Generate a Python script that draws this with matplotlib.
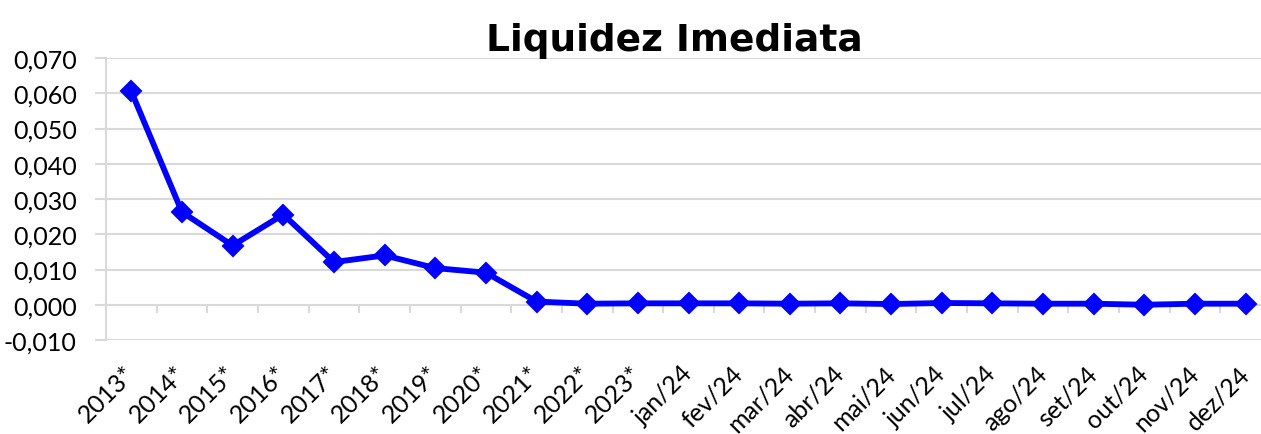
import matplotlib
matplotlib.use("Agg")
import matplotlib.pyplot as plt
from matplotlib.ticker import FuncFormatter, MultipleLocator

categories = [
    "2013*", "2014*", "2015*", "2016*", "2017*", "2018*", "2019*", "2020*",
    "2021*", "2022*", "2023*", "jan/24", "fev/24", "mar/24", "abr/24",
    "mai/24", "jun/24", "jul/24", "ago/24", "set/24", "out/24", "nov/24",
    "dez/24",
]
values = [
    0.0605, 0.0263, 0.0168, 0.0256, 0.0121, 0.0140, 0.0104, 0.0091,
    0.0009, 0.0003, 0.0004, 0.0004, 0.0004, 0.0003, 0.0004,
    0.0002, 0.0005, 0.0004, 0.0003, 0.0003, 0.0000, 0.0003,
    0.0003,
]

GRID = "#d9d9d9"
BLUE = "#0000ff"
FONT = "Lato"

fig = plt.figure(figsize=(12.61, 4.35), dpi=100)
ax = fig.add_axes([106 / 1261, 94 / 435, 1165 / 1261, 282 / 435])

x = list(range(len(categories)))
ax.plot(x, values, color=BLUE, linewidth=4.2, marker="D", markersize=10,
        markeredgecolor=BLUE, markeredgewidth=1.5, zorder=5,
        solid_joinstyle="round")

ax.set_xlim(-0.5, len(categories) - 0.5)
ax.set_ylim(-0.010, 0.070)
ax.yaxis.set_major_locator(MultipleLocator(0.01))
ax.yaxis.set_major_formatter(
    FuncFormatter(lambda v, _: f"{v:.3f}".replace(".", ",")))
ax.grid(axis="y", color=GRID, linewidth=1.5)
ax.set_axisbelow(True)

for side in ("top", "right", "bottom"):
    ax.spines[side].set_visible(False)
ax.spines["left"].set_color(GRID)
ax.spines["left"].set_linewidth(1.5)

# category tick marks hang from the zero line, between categories
ax.vlines([i + 0.5 for i in x[:-1]], -0.0023, 0, color=GRID, linewidth=1.5,
          zorder=1)

ax.tick_params(axis="y", colors=GRID, length=8, width=1.5, pad=13,
               labelcolor="black", labelsize=18)
ax.tick_params(axis="x", length=0, pad=21, labelsize=18)
ax.set_xticks(x)
ax.set_xticklabels(categories, rotation=45, ha="right", va="center",
                   rotation_mode="anchor")
for lbl in ax.get_xticklabels() + ax.get_yticklabels():
    lbl.set_fontfamily(FONT)

fig.text(674 / 1261, (435 - 51) / 435, "Liquidez Imediata", ha="center",
         va="baseline", fontsize=27, fontweight="bold", family="DejaVu Sans")

fig.savefig("out.png", dpi=100, facecolor="white")
